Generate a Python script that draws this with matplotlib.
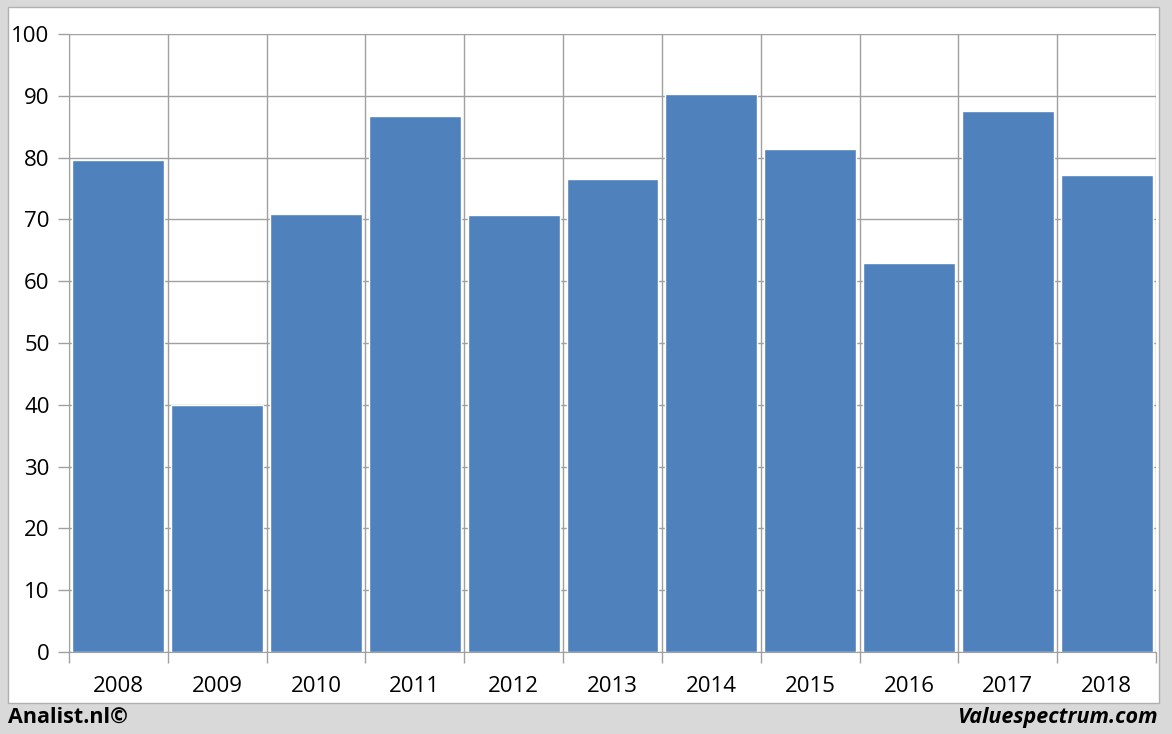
import matplotlib.pyplot as plt
import numpy as np
from matplotlib.patches import Rectangle

# Data
years = ['2008', '2009', '2010', '2011', '2012', '2013', '2014', '2015', '2016', '2017', '2018']
values = [79.6, 40.0, 70.9, 86.7, 70.7, 76.5, 90.3, 81.4, 62.9, 87.5, 77.2]

plt.rcParams['font.family'] = ['Open Sans', 'DejaVu Sans']

fig = plt.figure(figsize=(11.72, 7.34), dpi=100, facecolor='#d9d9d9')
W, H = 1172, 734

# white chart panel (behind the axes)
fig.patches.append(Rectangle((8 / W, 1 - 703 / H), (1159 - 8) / W, (703 - 7) / H,
                             transform=fig.transFigure, facecolor='white',
                             edgecolor='#b0b0b0', linewidth=1, zorder=-10))

ax = fig.add_axes([69 / W, 1 - 652 / H, (1156 - 69) / W, (652 - 34) / H])
ax.set_facecolor('white')

x = np.arange(len(years))
ax.bar(x, values, width=0.93, color='#4f81bd', edgecolor='white', linewidth=1, zorder=2)

ax.set_xlim(-0.5, len(years) - 0.5)
ax.set_ylim(0, 100)
ax.set_yticks(np.arange(0, 101, 10))
ax.set_xticks(x)
ax.set_xticklabels(years)
ax.set_xticks(np.arange(-0.5, len(years)), minor=True)

ax.grid(axis='y', color='#a0a0a0', linewidth=1, zorder=1)
ax.grid(axis='x', which='minor', color='#a0a0a0', linewidth=1, zorder=1)
ax.tick_params(axis='x', which='major', length=0, labelsize=16, pad=17)
ax.tick_params(axis='x', which='minor', length=8, color='#a0a0a0', width=1)
ax.tick_params(axis='y', length=8, color='#a0a0a0', width=1, labelsize=16, pad=6)

for s in ['top', 'right']:
    ax.spines[s].set_visible(False)
for s in ['left', 'bottom']:
    ax.spines[s].set_color('#a0a0a0')
ax.set_axisbelow(True)

fig.text(8 / W, 1 - 717 / H, 'Analist.nl\u00a9', fontsize=15.5, fontweight='bold',
         ha='left', va='center')
fig.text(1158 / W, 1 - 717 / H, 'Valuespectrum.com', fontsize=15.5, fontweight='bold',
         style='italic', ha='right', va='center')

fig.savefig('out.png', dpi=100, facecolor=fig.get_facecolor())
